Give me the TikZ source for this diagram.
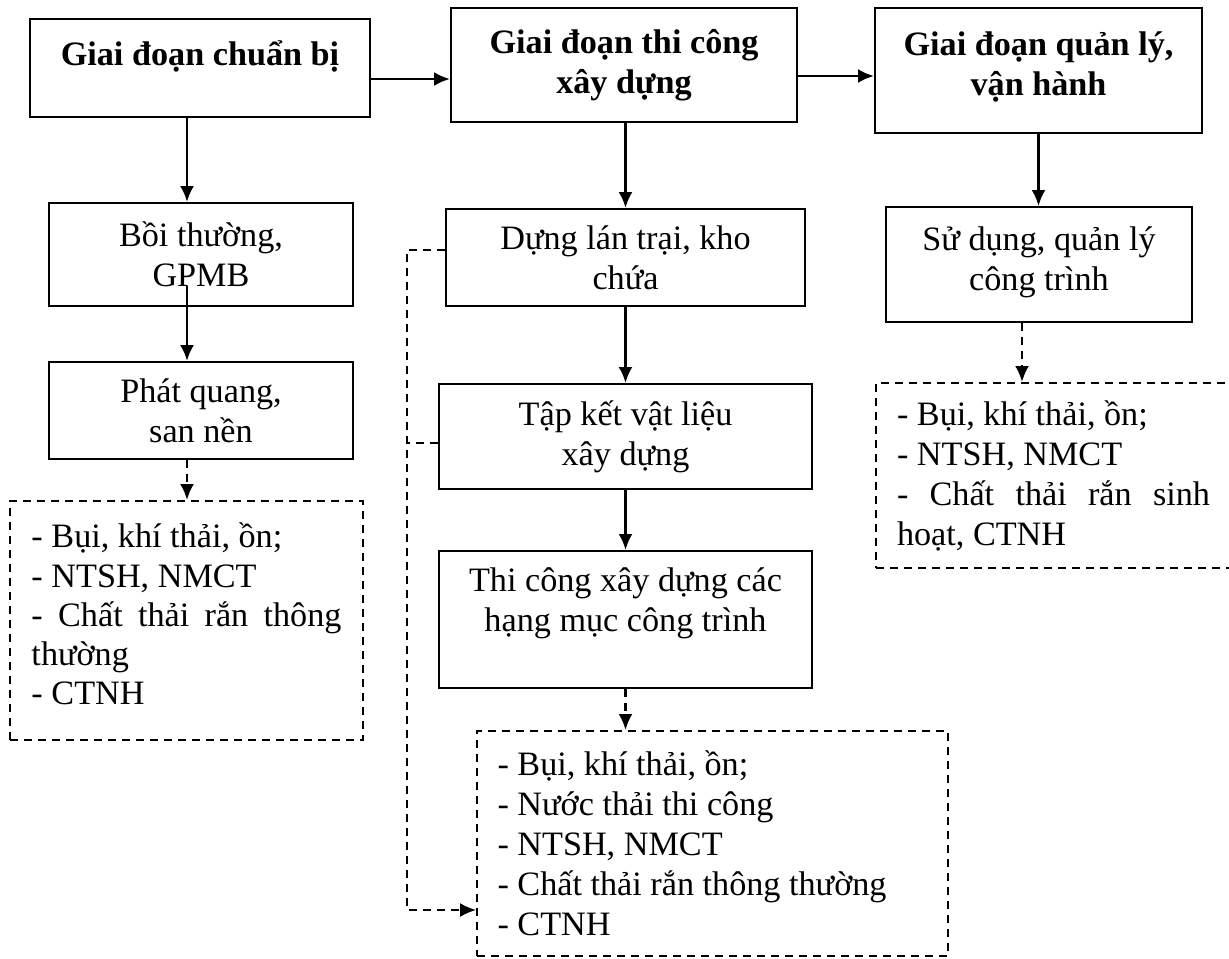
\documentclass[tikz,border=0pt]{standalone}
\usepackage{fontspec}
\setmainfont{Liberation Serif}
\usetikzlibrary{%
  arrows.meta,%
  positioning,%
  calc%
}
\hyphenpenalty=10000

\begin{document}
\begin{tikzpicture}[
  x=0.5pt, y=-0.5pt,
  font=\fontsize{17.1}{20}\selectfont,
  >={Latex[length=8pt,width=7pt]},
  line width=1.3pt,
  stage/.style={draw, line width=1pt, align=center, inner sep=0pt,
    font=\fontsize{17.1}{20}\selectfont\bfseries},
  task/.style={draw, line width=1pt, align=center, inner sep=0pt},
  waste/.style={draw, line width=1pt, dash pattern=on 4pt off 3pt, inner sep=0pt},
  flow/.style={->},
  impact/.style={->, dash pattern=on 4pt off 3pt},
]

\useasboundingbox (0,0) rectangle (1229,958);

% giai doan
\node[stage, minimum width=170pt, minimum height=49pt] (prep) at (200,68) {Giai đoạn chuẩn bị\\[-5pt]~};
\node[stage, minimum width=173pt, minimum height=57pt] (build) at (624,65) {Giai đoạn thi công\\xây dựng};
\node[stage, minimum width=163.5pt, minimum height=62.5pt] (oper) at (1038.5,70.5) {Giai đoạn quản lý,\\vận hành\\[-13pt]~};

% cong viec
\node[task, minimum width=152pt, minimum height=51.5pt] (comp) at (201,254.5) {Bồi thường,\\GPMB};
\node[task, minimum width=152pt, minimum height=48.5pt] (clear) at (201,410.5) {Phát quang,\\san nền};
\node[task, minimum width=179.5pt, minimum height=48.5pt] (camp) at (625.5,257.5) {Dựng lán trại, kho\\chứa};
\node[task, minimum width=186.5pt, minimum height=52.5pt] (store) at (625.5,436.5) {Tập kết vật liệu\\xây dựng};
\node[task, minimum width=186.5pt, minimum height=68.5pt] (works) at (625.5,619.5) {Thi công xây dựng các\\hạng mục công trình\\~};
\node[task, minimum width=153pt, minimum height=57.5pt] (use) at (1039,264.5) {Sử dụng, quản lý\\công trình\\[-14pt]~};

% chat thai
\node[waste, text width=155pt, align=justify, minimum width=176.5pt, minimum height=119.5pt,
  font=\fontsize{17.1}{19.6}\selectfont] (prepwaste) at (186.5,620.5)
  {- Bụi, khí thải, ồn;\\- NTSH, NMCT\\- Chất thải rắn thông thường\\- CTNH\\[-13pt]~};
\node[waste, text width=215pt, align=flush left, minimum width=235.5pt, minimum height=112.5pt] (buildwaste) at (712.5,843.5)
  {- Bụi, khí thải, ồn;\\- Nước thải thi công\\- NTSH, NMCT\\- Chất thải rắn thông thường\\- CTNH};
\node[waste, text width=156.5pt, align=justify, minimum width=177.5pt, minimum height=92.5pt] (operwaste) at (1053.5,475.5)
  {- Bụi, khí thải, ồn;\\- NTSH, NMCT\\- Chất thải rắn sinh hoạt, CTNH};

\draw[flow] ([yshift=-5.5pt]prep.east) -- ([yshift=-5.5pt]prep.east -| build.west);
\draw[flow] ([yshift=-5.5pt]build.east) -- ([yshift=-5.5pt]build.east -| oper.west);

\draw[flow] ([xshift=-6.5pt]prep.south) -- ([xshift=-6.5pt]prep.south |- comp.north);
\draw[flow] ([xshift=-7pt,yshift=10.5pt]comp.south) -- ([xshift=-7pt]comp.south |- clear.north);
\draw[impact] ([xshift=-7pt]clear.south) -- ([xshift=-7pt]clear.south |- prepwaste.north);

\draw[flow] (camp.north |- build.south) -- (camp.north);
\draw[flow] (camp.south) -- (camp.south |- store.north);
\draw[flow] (store.south) -- (works.north);
\draw[impact] (works.south) -- (works.south |- buildwaste.north);

\draw[flow] (oper.south) -- (oper.south |- use.north);
\draw[impact] ([xshift=-8.5pt]use.south) -- ([xshift=-8.5pt]use.south |- operwaste.north);

% lan trai, kho bai -> chat thai thi cong
\coordinate (feedtop) at (407,250);
\coordinate (feedend) at (407,910);
\draw[impact, line width=1pt] ([yshift=3.75pt]camp.west) -- (feedtop) -- (feedend) -- (feedend -| buildwaste.west);
\draw[dash pattern=on 4pt off 3pt, line width=1pt] ([yshift=-3.25pt]store.west) -- ([yshift=-3.25pt]store.west -| feedtop);

\end{tikzpicture}
\end{document}
